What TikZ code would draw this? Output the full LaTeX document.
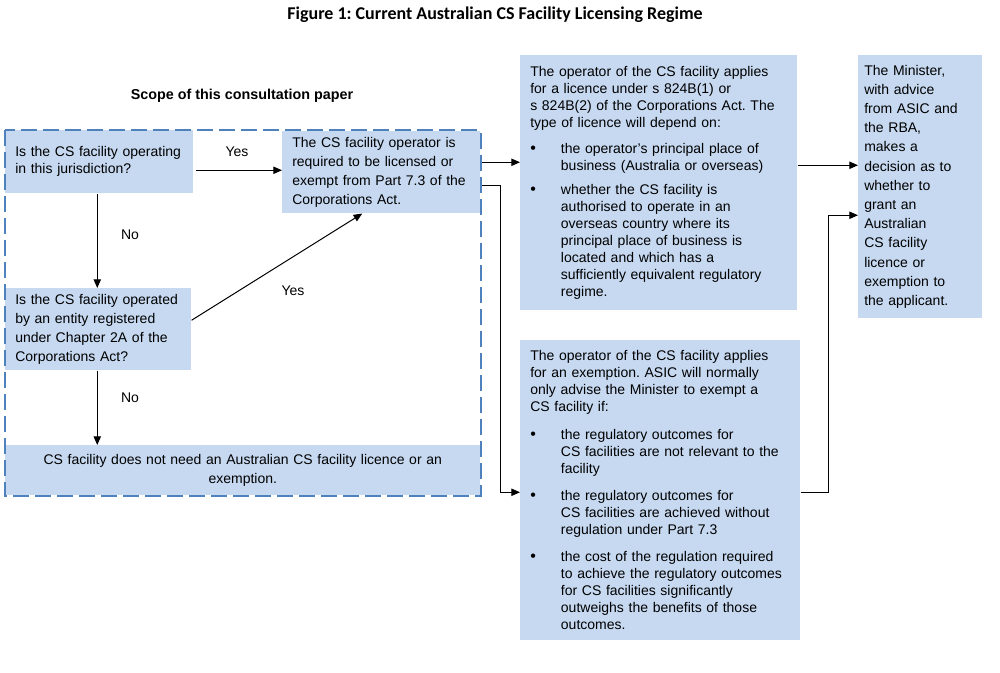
\documentclass[tikz,border=0pt]{standalone}
\usepackage{fontspec}
\setmainfont{Liberation Sans}
\newfontfamily\titlefont{Carlito}
\usetikzlibrary{arrows.meta,calc}
\definecolor{boxblue}{HTML}{C6D9F1}
\definecolor{scopeblue}{HTML}{4F81BD}
\newcommand\bulletline[3][7pt]{\par\vspace{#1}\noindent\makebox[23pt][l]{{\fontsize{12}{12}\selectfont\textbullet}}\parbox[t]{#2}{\raggedright #3}}
\tikzset{
  box/.style={fill=boxblue, anchor=north west, inner xsep=7.5pt, inner ysep=0pt, align=left,
    font=\fontsize{10.5}{14.4}\selectfont},
  lbl/.style={font=\fontsize{10.5}{12}\selectfont, inner sep=0pt},
  flow/.style={line width=0.75pt, -{Triangle[length=6.5pt, width=5.5pt]}},
  scopeframe/.style={draw=scopeblue, line width=1.5pt, dash pattern=on 12pt off 4.5pt}
}
\frenchspacing
\begin{document}
\begin{tikzpicture}[x=0.75pt, y=-0.75pt]
          \useasboundingbox (0, 0) rectangle (1000, 672);

          \node [font=\titlefont\bfseries\fontsize{13.5}{16}\selectfont] (title) at (495, 15) {Figure 1: Current Australian CS Facility Licensing Regime};
          \node [font=\bfseries\fontsize{10.75}{13}\selectfont] (scope) at (242, 96) {Scope of this consultation paper};

          % boxes inside the scope
          \node [box, text width=126pt, minimum height=47.25pt, font=\fontsize{10.5}{12.75}\selectfont] (isop) at (5, 130) {Is the CS facility operating\\ in this jurisdiction?};
          \node [box, text width=133.5pt, minimum height=61.5pt] (req) at (282, 131) {The CS facility operator is\\ required to be licensed or\\ exempt from Part 7.3 of the\\ Corporations Act.};
          \node [box, text width=124.5pt, minimum height=61.5pt] (reg) at (5, 288) {Is the CS facility operated\\ by an entity registered\\ under Chapter 2A of the\\ Corporations Act?};
          \node [box, text width=341.25pt, minimum height=37.5pt, align=center] (none) at (5, 445) {CS facility does not need an Australian CS facility licence or an\\ exemption.};

          % boxes outside the scope
          \node [box, text width=192.75pt, minimum height=191.25pt, font=\fontsize{10.5}{12.75}\selectfont] (lic) at (520, 55) {The operator of the CS facility applies\newline for a licence under s 824B(1) or\newline s 824B(2) of the Corporations Act. The\newline type of licence will depend on:
            \bulletline{169pt}{the operator’s principal place of\\ business (Australia or overseas)}
            \bulletline{169pt}{whether the CS facility is\\ authorised to operate in an\\ overseas country where its\\ principal place of business is\\ located and which has a\\ sufficiently equivalent regulatory\\ regime.}};
          \node [box, text width=195pt, minimum height=225pt, font=\fontsize{10.5}{12.75}\selectfont] (exm) at (520, 340) {The operator of the CS facility applies\newline for an exemption. ASIC will normally\newline only advise the Minister to exempt a\newline CS facility if:
            \bulletline[8.5pt]{172pt}{the regulatory outcomes for\\ CS facilities are not relevant to the\\ facility}
            \bulletline[9.5pt]{172pt}{the regulatory outcomes for\\ CS facilities are achieved without\\ regulation under Part 7.3}
            \bulletline[9.5pt]{172pt}{the cost of the regulation required\\ to achieve the regulatory outcomes\\ for CS facilities significantly\\ outweighs the benefits of those\\ outcomes.}};
          \node [box, inner xsep=4.5pt, text width=84pt, minimum height=197.25pt] (min) at (858, 55) {The Minister,\\ with advice\\ from ASIC and\\ the RBA,\\ makes a\\ decision as to\\ whether to\\ grant an\\ Australian\\ CS facility\\ licence or\\ exemption to\\ the applicant.};

          % connectors
          \coordinate (isopout) at ($(isop.east) + (2, 8.5)$);
          \coordinate (isopdown) at ($(isop.south) + (-2, 0)$);
          \coordinate (regout) at ($(reg.east) + (0, -9)$);
          \coordinate (regdown) at ($(reg.south) + (-1, 0)$);
          \coordinate (reqlic) at ($(req.east) + (0, -10)$);
          \coordinate (reqexm) at ($(req.east) + (0, 13)$);
          \coordinate (licout) at ($(lic.east) + (0, -17.5)$);
          \coordinate (exmout) at ($(exm.east) + (0, 2)$);

          \draw [flow] (isopout) -- (isopout -| req.west);
          \draw [flow] (isopdown) -- (isopdown |- reg.north);
          \draw [flow] (regout) -- ($(req.south) + (-19, 0)$);
          \draw [flow] (regdown) -- (regdown |- none.north);
          \draw [flow] (reqlic) -- (reqlic -| lic.west);
          \draw [flow] (reqexm) -- ++(20, 0) |- ($(exm.west) + (0, 2)$);
          \draw [flow] (licout) -- (licout -| min.west);
          \draw [flow] (exmout) -- ++(28, 0) |- ($(min.west) + (0, 28.5)$);

          \node [lbl] (yesa) at (237, 152) {Yes};
          \node [lbl] (noa) at (130, 235) {No};
          \node [lbl] (yesb) at (293, 291) {Yes};
          \node [lbl] (nob) at (130, 398) {No};

          % scope of the paper
          \draw [scopeframe] (isop.north west) rectangle (none.south east);
        \end{tikzpicture}
\end{document}
